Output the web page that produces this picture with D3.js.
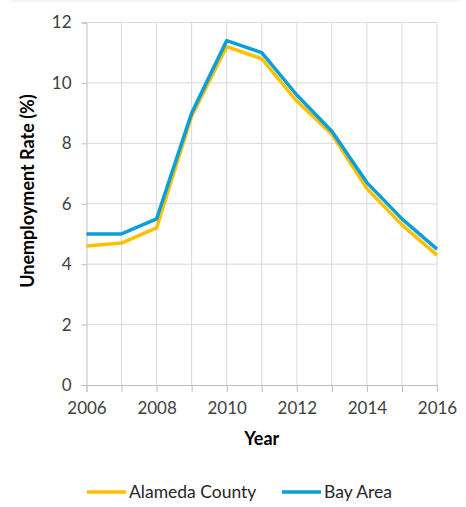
<!DOCTYPE html>
<html>
<head>
<meta charset="utf-8">
<script src="https://cdn.jsdelivr.net/npm/d3@7"></script>
<style>
  body { margin: 0; background: #fff; }
  text { font-family: Lato, "Open Sans", sans-serif; fill: #404040; }
</style>
</head>
<body>
<svg id="vis"></svg>
<script>
const WIDTH = 466;
const HEIGHT = 507;

const years = [2006, 2007, 2008, 2009, 2010, 2011, 2012, 2013, 2014, 2015, 2016];
const alameda = [4.6, 4.7, 5.2, 8.9, 11.2, 10.8, 9.4, 8.3, 6.5, 5.3, 4.3];
const bayArea = [5.0, 5.0, 5.5, 9.0, 11.4, 11.0, 9.6, 8.4, 6.7, 5.5, 4.5];
const yTicks = [0, 2, 4, 6, 8, 10, 12];
const xTicks = [2006, 2008, 2010, 2012, 2014, 2016];

const series = [
    {name: "Alameda County", values: alameda, color: "#FFC000"},
    {name: "Bay Area", values: bayArea, color: "#0A9FD8"}
];

const margin = {top: 22.5, right: 29, bottom: 122, left: 86.5};

const svg = d3.select("#vis")
    .attr("width", WIDTH)
    .attr("height", HEIGHT);

// faint frame edge at the top
svg.append("line")
    .attr("x1", 11).attr("x2", 460)
    .attr("y1", 1).attr("y2", 1)
    .style("stroke", "#ececec");

const x = d3.scaleLinear()
    .domain([2006, 2016])
    .range([margin.left, WIDTH - margin.right]);
const y = d3.scaleLinear()
    .domain([0, 12])
    .range([HEIGHT - margin.bottom, margin.top]);

// gridlines
svg.append("g")
    .selectAll("line").data(yTicks.filter(d => d > 0)).join("line")
    .attr("x1", x(2006)).attr("x2", x(2016))
    .attr("y1", d => y(d)).attr("y2", d => y(d))
    .style("stroke", "#d9d9d9");
svg.append("g")
    .selectAll("line").data(years.slice(1)).join("line")
    .attr("x1", d => x(d)).attr("x2", d => x(d))
    .attr("y1", y(0)).attr("y2", y(12))
    .style("stroke", "#d9d9d9");

// y axis
const yAxis = svg.append("g")
    .attr("transform", "translate(" + x(2006) + ",0)")
    .call(d3.axisLeft(y).tickValues(yTicks).tickSize(5).tickPadding(10));
// x axis
const xAxis = svg.append("g")
    .attr("transform", "translate(0," + y(0) + ")")
    .call(d3.axisBottom(x).tickValues(years).tickSize(7).tickPadding(10)
        .tickFormat(d => xTicks.includes(d) ? d : ""));

[yAxis, xAxis].forEach(a => {
    a.select(".domain").style("stroke", "#bfbfbf");
    a.selectAll(".tick line").style("stroke", "#bfbfbf");
    a.selectAll(".tick text")
        .style("font-size", "17px")
        .style("fill", "#404040");
});

// lines
const line = d3.line()
    .x((d, i) => x(years[i]))
    .y(d => y(d));

svg.selectAll(".series").data(series).join("path")
    .attr("class", "series")
    .attr("d", d => line(d.values))
    .style("fill", "none")
    .style("stroke", d => d.color)
    .style("stroke-width", 3.5)
    .style("stroke-linejoin", "round");

// axis titles
svg.append("text")
    .attr("x", x(2011))
    .attr("y", 445)
    .attr("text-anchor", "middle")
    .style("font-size", "18px")
    .style("font-weight", "bold")
    .style("fill", "#000")
    .text("Year");

svg.append("text")
    .attr("transform", "translate(34,191) rotate(-90)")
    .attr("text-anchor", "middle")
    .style("font-size", "18px")
    .style("font-weight", "bold")
    .style("fill", "#000")
    .text("Unemployment Rate (%)");

// legend
const legendX = [87, 282];
const legend = svg.selectAll(".legend").data(series).join("g")
    .attr("class", "legend")
    .attr("transform", (d, i) => "translate(" + legendX[i] + ",492)");
legend.append("line")
    .attr("x1", 0).attr("x2", 39)
    .style("stroke", d => d.color)
    .style("stroke-width", 3.5);
legend.append("text")
    .attr("x", 42)
    .attr("y", 6)
    .style("font-size", "17.5px")
    .style("fill", "#262626")
    .text(d => d.name);
</script>
</body>
</html>
